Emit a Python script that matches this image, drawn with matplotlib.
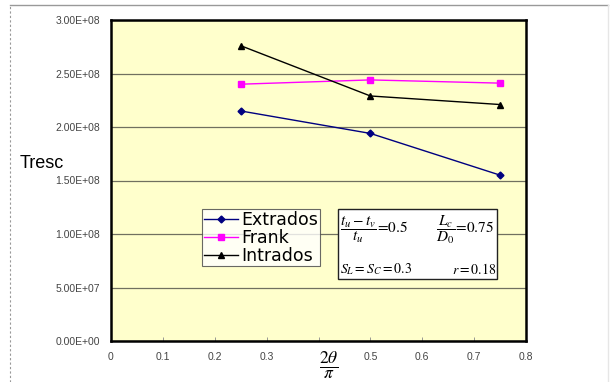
import matplotlib
matplotlib.use("Agg")
import matplotlib.pyplot as plt
from matplotlib.lines import Line2D
from matplotlib.patches import Rectangle

x_vals = [0.25, 0.5, 0.75]
extrados = [2.15e8, 1.94e8, 1.55e8]
frank = [2.40e8, 2.44e8, 2.41e8]
intrados = [2.76e8, 2.29e8, 2.21e8]
series_names = ["Extrados", "Frank", "Intrados"]
x_ticks = [0, 0.1, 0.2, 0.3, 0.4, 0.5, 0.6, 0.7, 0.8]
x_ticklabels = ["0", "0.1", "0.2", "0.3", "", "0.5", "0.6", "0.7", "0.8"]
y_ticks = [0, 5e7, 1e8, 1.5e8, 2e8, 2.5e8, 3e8]
y_ticklabels = ["0.00E+00", "5.00E+07", "1.00E+08", "1.50E+08", "2.00E+08", "2.50E+08", "3.00E+08"]

plt.rcParams['font.family'] = ['Liberation Sans', 'DejaVu Sans']
plt.rcParams['mathtext.fontset'] = 'stix'

fig = plt.figure(figsize=(6.11, 3.82), dpi=100)
fig.patch.set_facecolor('white')
ax = fig.add_axes([111/611, 1-341/382, (526-111)/611, (341-20)/382])
ax.set_facecolor('#FFFFCC')

# outer border
fig.add_artist(Line2D([10/611, 10/611], [0, 1-5/382], transform=fig.transFigure,
                      color='#999999', lw=0.8, ls=(0, (2, 2))))
fig.add_artist(Line2D([10/611, 608/611], [1-5/382, 1-5/382], transform=fig.transFigure,
                      color='#999999', lw=1.0))
fig.add_artist(Line2D([608/611, 608/611], [0, 1-5/382], transform=fig.transFigure,
                      color='#E6E6E6', lw=1.0))

ax.plot(x_vals, extrados, color='#000080', lw=1.0, marker='D', ms=3.5, label=series_names[0])
ax.plot(x_vals, frank, color='#FF00FF', lw=1.0, marker='s', ms=5, label=series_names[1])
ax.plot(x_vals, intrados, color='#000000', lw=1.0, marker='^', ms=5, label=series_names[2])

ax.set_xlim(0, 0.8)
ax.set_ylim(0, 3e8)
ax.set_xticks(x_ticks)
ax.set_xticklabels(x_ticklabels, fontsize=7.5, color='#444444')
ax.set_yticks(y_ticks)
ax.set_yticklabels(y_ticklabels, fontsize=7.5, color='#444444')
ax.tick_params(axis='x', direction='in', length=3, width=0.6, color='#888888', pad=8)
ax.tick_params(axis='y', length=0, pad=8)
ax.yaxis.grid(True, color='#707060', lw=0.9)
ax.set_axisbelow(True)
for s in ax.spines.values():
    s.set_linewidth(1.8)
    s.set_color('black')

fig.text(20/611, 1-163/382, "Tresc", fontsize=13, va='center', ha='left')
fig.text(329/611, 1-365/382, r"$\frac{2\theta}{\pi}$", fontsize=18, ha='center', va='center')

leg = ax.legend(loc='upper left', bbox_to_anchor=((202-111)/415, (341-209)/321),
                frameon=True, fancybox=False, prop={'family': 'DejaVu Sans', 'size': 12.5},
                borderpad=0.1, labelspacing=0.0, handlelength=2.0, handletextpad=0.15,
                borderaxespad=0)
leg.get_frame().set_edgecolor('#444444')
leg.get_frame().set_linewidth(0.8)

# annotation box
bx0, by0, bx1, by1 = 338, 209, 497, 279
fig.add_artist(Rectangle((bx0/611, 1-by1/382), (bx1-bx0)/611, (by1-by0)/382,
                         transform=fig.transFigure, facecolor='white',
                         edgecolor='#222222', lw=1.0))
fig.text(340/611, 1-230/382, r"$\dfrac{t_u-t_v}{t_u}\!=\!0.5$", fontsize=11, va='center')
fig.text(436/611, 1-230/382, r"$\dfrac{L_c}{D_0}\!=\!0.75$", fontsize=11, va='center')
fig.text(340/611, 1-269/382, r"$S_L=S_C=0.3$", fontsize=10, va='center')
fig.text(496/611, 1-269/382, r"$r=0.18$", fontsize=10, va='center', ha='right')

fig.savefig("out.png", dpi=100)
